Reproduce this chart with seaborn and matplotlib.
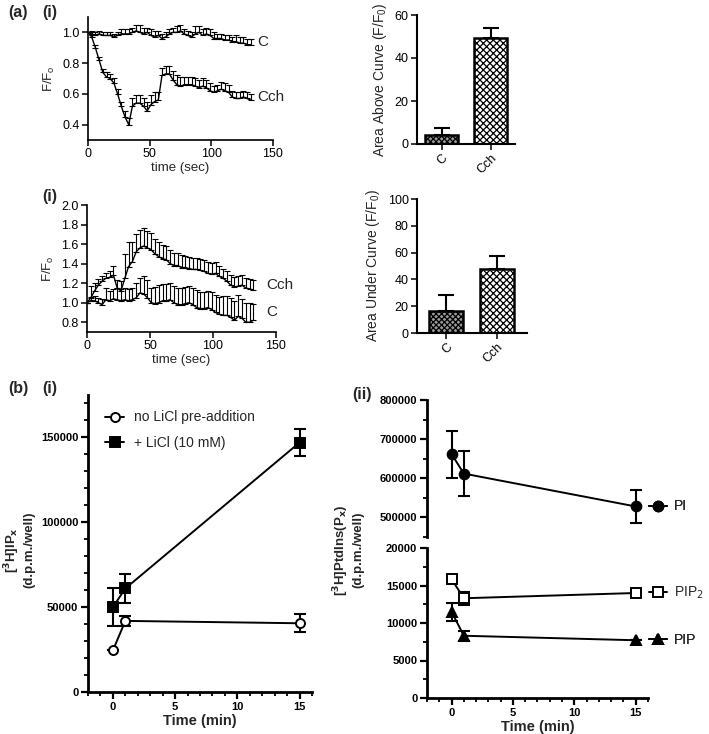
import matplotlib
matplotlib.use("Agg")
import matplotlib.pyplot as plt
from matplotlib.ticker import MultipleLocator, FormatStrFormatter
import numpy as np
import seaborn as sns

sns.set_style("ticks")
plt.rcParams['font.family'] = ['Liberation Sans', 'DejaVu Sans']
plt.rcParams['hatch.linewidth'] = 0.9

# ---- (a) calcium traces, one point every 3 s ----
t_sec = list(range(0, 133, 3))

top_c = [1.00, 0.99, 0.98, 0.99, 0.98, 0.98, 0.98, 0.97, 0.98, 0.99, 0.99, 0.99, 1.00, 1.01, 1.00,
         0.99, 1.00, 0.98, 0.97, 0.98, 0.96, 0.97, 0.99, 1.00, 1.00, 1.01, 0.99, 0.98, 0.97, 0.99,
         1.00, 0.98, 0.99, 0.98, 0.96, 0.96, 0.96, 0.95, 0.95, 0.94, 0.94, 0.93, 0.93, 0.92, 0.92]
top_c_err = [0.0, 0.02, 0.02, 0.02, 0.02, 0.02, 0.02, 0.02, 0.02, 0.03, 0.03, 0.03, 0.03, 0.04, 0.05,
             0.04, 0.03, 0.04, 0.04, 0.03, 0.03, 0.03, 0.03, 0.03, 0.04, 0.04, 0.03, 0.03, 0.03, 0.05,
             0.04, 0.04, 0.04, 0.04, 0.04, 0.03, 0.03, 0.03, 0.03, 0.03, 0.04, 0.04, 0.04, 0.04, 0.04]
top_cch = [1.00, 0.97, 0.90, 0.82, 0.74, 0.71, 0.70, 0.67, 0.60, 0.52, 0.45, 0.40, 0.52, 0.54, 0.54,
           0.52, 0.49, 0.53, 0.55, 0.56, 0.72, 0.73, 0.73, 0.69, 0.66, 0.65, 0.66, 0.66, 0.66, 0.65,
           0.64, 0.65, 0.64, 0.62, 0.61, 0.62, 0.63, 0.62, 0.61, 0.58, 0.57, 0.57, 0.58, 0.57, 0.56]
top_cch_err = [0.0, 0.01, 0.02, 0.02, 0.02, 0.03, 0.03, 0.03, 0.03, 0.03, 0.04, 0.04, 0.05, 0.05, 0.05,
               0.05, 0.06, 0.06, 0.06, 0.05, 0.05, 0.05, 0.05, 0.06, 0.06, 0.06, 0.05, 0.05, 0.05, 0.05,
               0.05, 0.05, 0.05, 0.05, 0.04, 0.04, 0.05, 0.05, 0.05, 0.04, 0.04, 0.04, 0.04, 0.04, 0.04]

mid_cch = [1.00, 1.05, 1.12, 1.18, 1.22, 1.25, 1.26, 1.28, 1.15, 1.12, 1.25, 1.37, 1.42, 1.52, 1.56,
           1.58, 1.56, 1.54, 1.50, 1.47, 1.45, 1.44, 1.40, 1.38, 1.38, 1.36, 1.36, 1.35, 1.34, 1.34,
           1.33, 1.32, 1.30, 1.29, 1.30, 1.27, 1.25, 1.22, 1.18, 1.16, 1.17, 1.18, 1.15, 1.14, 1.13]
mid_cch_err = [0.0, 0.12, 0.08, 0.06, 0.05, 0.05, 0.06, 0.10, 0.08, 0.10, 0.25, 0.25, 0.20, 0.18, 0.18,
               0.18, 0.17, 0.17, 0.15, 0.15, 0.14, 0.14, 0.14, 0.13, 0.13, 0.13, 0.12, 0.12, 0.12, 0.12,
               0.12, 0.12, 0.12, 0.12, 0.12, 0.11, 0.10, 0.10, 0.10, 0.10, 0.10, 0.10, 0.10, 0.10, 0.10]
mid_c = [1.00, 1.02, 1.02, 1.00, 0.98, 1.03, 1.02, 1.04, 1.03, 1.02, 1.03, 1.02, 1.03, 1.05, 1.10,
         1.09, 1.05, 1.00, 0.99, 1.00, 1.02, 1.02, 1.03, 1.00, 0.98, 0.98, 0.99, 1.00, 0.98, 0.95,
         0.94, 0.94, 0.95, 0.93, 0.90, 0.88, 0.87, 0.87, 0.85, 0.82, 0.86, 0.84, 0.80, 0.80, 0.82]
mid_c_err = [0.0, 0.04, 0.05, 0.05, 0.06, 0.12, 0.10, 0.10, 0.12, 0.12, 0.12, 0.12, 0.12, 0.15, 0.15,
             0.18, 0.18, 0.15, 0.17, 0.18, 0.17, 0.17, 0.17, 0.17, 0.17, 0.17, 0.17, 0.17, 0.17, 0.18,
             0.17, 0.17, 0.17, 0.18, 0.18, 0.18, 0.20, 0.20, 0.20, 0.20, 0.22, 0.20, 0.20, 0.20, 0.17]

bar_groups = ['C', 'Cch']
above_mean = [4.3, 49.5]
above_err = [3.1, 4.3]
under_mean = [16.4, 48.0]
under_err = [12.0, 9.7]

# ---- (b) inositol phosphates / phosphoinositides ----
t_min = [0, 1, 15]
ip_no_licl = [24500, 41900, 40500]
ip_no_licl_err = [0, 3000, 5300]
ip_licl = [50000, 61000, 147000]
ip_licl_err = [11000, 8500, 8000]
pi_vals = [662000, 612000, 528000]
pi_err = [60000, 57000, 41000]
pip2_vals = [15850, 13300, 14000]
pip2_err = [0, 900, 0]
pip_vals = [11500, 8300, 7700]
pip_err = [1200, 700, 0]

W, H = 709, 734
fig = plt.figure(figsize=(W / 100, H / 100), dpi=100)


def px_axes(l, t, r, b):
    return fig.add_axes([l / W, 1 - b / H, (r - l) / W, (b - t) / H])


def style_a(ax):
    sns.despine(ax=ax)
    for s in ['left', 'bottom']:
        ax.spines[s].set_linewidth(1.2)
        ax.spines[s].set_color('black')
    ax.tick_params(direction='out', length=4, width=1.1, labelsize=9, pad=2, colors='black')


def trace(ax, y, err, label, off):
    sns.lineplot(x=t_sec, y=y, color='black', lw=1.0, ax=ax)
    ax.errorbar(t_sec, y, yerr=[np.zeros(len(err)), err], fmt='none', ecolor='black',
                elinewidth=0.8, capsize=2.2, capthick=0.8)
    ax.annotate(label, xy=(t_sec[-1], y[-1] + err[-1] / 2), xytext=(off, 0),
                textcoords='offset points', va='center', fontsize=11)


# top trace
ax1 = px_axes(88, 17, 273, 140)
trace(ax1, top_c, top_c_err, 'C', 5)
trace(ax1, top_cch, top_cch_err, 'Cch', 5)
ax1.set_xlim(0, 150)
ax1.set_ylim(0.3, 1.1)
ax1.set_xticks([0, 50, 100, 150])
ax1.set_yticks([0.4, 0.6, 0.8, 1.0])
ax1.yaxis.set_major_formatter(FormatStrFormatter('%.1f'))
ax1.set_xlabel('time (sec)', fontsize=9.5, labelpad=1)
ax1.set_ylabel('F/F$_\\mathregular{o}$', fontsize=9.5, labelpad=4)
style_a(ax1)

# middle trace
ax3 = px_axes(87, 205, 276, 332)
trace(ax3, mid_cch, mid_cch_err, 'Cch', 9)
trace(ax3, mid_c, mid_c_err, 'C', 9)
ax3.set_xlim(0, 150)
ax3.set_ylim(0.7, 2.0)
ax3.set_xticks([0, 50, 100, 150])
ax3.set_yticks([0.8, 1.0, 1.2, 1.4, 1.6, 1.8, 2.0])
ax3.yaxis.set_major_formatter(FormatStrFormatter('%.1f'))
ax3.set_xlabel('time (sec)', fontsize=9.5, labelpad=1)
ax3.set_ylabel('F/F$_\\mathregular{o}$', fontsize=9.5, labelpad=4)
style_a(ax3)


def bars(ax, means, errs, ylabel):
    sns.barplot(x=bar_groups, y=means, ax=ax, color='white', edgecolor='black',
                linewidth=1.8, width=0.68, errorbar=None)
    for p, h, fc in zip(ax.patches, ['xxxxxx', 'xxxxx'], ['#9a9a9a', 'white']):
        p.set_hatch(h)
        p.set_facecolor(fc)
    ax.errorbar(range(len(means)), means, yerr=[np.zeros(len(errs)), errs], fmt='none',
                ecolor='black', elinewidth=1.5, capsize=6, capthick=1.5, zorder=0)
    ax.set_ylabel(ylabel, fontsize=10)
    for lab in ax.get_xticklabels():
        lab.set_rotation(45)
        lab.set_ha('right')
        lab.set_rotation_mode('anchor')
    style_a(ax)
    ax.spines['bottom'].set_linewidth(1.5)
    ax.spines['left'].set_linewidth(1.5)


ax2 = px_axes(417, 15, 515, 144)
bars(ax2, above_mean, above_err, 'Area Above Curve (F/F$_\\mathregular{0}$)')
ax2.set_xlim(-0.5, 1.5)
ax2.set_ylim(0, 60)
ax2.set_yticks([0, 20, 40, 60])

ax4 = px_axes(417, 199, 527, 333)
bars(ax4, under_mean, under_err, 'Area Under Curve (F/F$_\\mathregular{0}$)')
ax4.set_xlim(-0.58, 1.6)
ax4.set_ylim(0, 100)
ax4.set_yticks([0, 20, 40, 60, 80, 100])


def style_b(ax, bottom=True):
    sns.despine(ax=ax, bottom=not bottom)
    for s in ['left', 'bottom']:
        ax.spines[s].set_linewidth(2.0)
        ax.spines[s].set_color('black')
    ax.tick_params(which='major', direction='out', length=5, width=1.6, labelsize=8, pad=2,
                   colors='black')
    ax.tick_params(which='minor', direction='out', length=3, width=1.3, colors='black')
    for lab in ax.get_xticklabels() + ax.get_yticklabels():
        lab.set_fontweight('bold')


def series(ax, y, err, marker, mfc, label, ms=6.5):
    ax.errorbar(t_min, y, yerr=err, fmt='none', ecolor='black', elinewidth=1.5,
                capsize=4.5, capthick=1.5, zorder=2)
    sns.lineplot(x=t_min, y=y, ax=ax, color='black', lw=1.4, marker=marker, ms=ms,
                 markerfacecolor=mfc, markeredgecolor='black', markeredgewidth=1.4,
                 label=label, zorder=3)


# b(i)
ax5 = px_axes(88, 395, 312, 692)
series(ax5, ip_no_licl, ip_no_licl_err, 'o', 'white', 'no LiCl pre-addition')
series(ax5, ip_licl, ip_licl_err, 's', 'black', '+ LiCl (10 mM)')
ax5.set_xlim(-2, 16)
ax5.set_ylim(0, 175000)
ax5.set_xticks([0, 5, 10, 15])
ax5.set_yticks([0, 50000, 100000, 150000])
ax5.xaxis.set_minor_locator(MultipleLocator(1))
ax5.yaxis.set_minor_locator(MultipleLocator(10000))
ax5.yaxis.set_major_formatter(FormatStrFormatter('%d'))
ax5.set_xlabel('Time (min)', fontsize=10.5, fontweight='bold', labelpad=2)
ax5.set_ylabel('')
ax5.legend(loc='upper left', bbox_to_anchor=(0.02, 0.99), frameon=False, fontsize=10,
           handlelength=1.4, handletextpad=0.7, labelspacing=0.8)
style_b(ax5)
fig.text(19 / W, 1 - 550 / H, '[$^\\mathbf{3}$H]IP$_\\mathbf{x}$\n(d.p.m./well)', rotation=90,
         ha='center', va='center', fontsize=9.5, fontweight='bold', multialignment='center')

# b(ii) broken axis
ax6a = px_axes(427, 400, 648, 537)
ax6b = px_axes(427, 548, 648, 698)
series(ax6a, pi_vals, pi_err, 'o', 'black', 'PI', ms=7)
series(ax6b, pip2_vals, pip2_err, 's', 'white', 'PIP$_2$', ms=7)
series(ax6b, pip_vals, pip_err, '^', 'black', 'PIP', ms=7)
for ax in (ax6a, ax6b):
    ax.set_xlim(-2, 16)
    ax.set_xlabel('')
    ax.set_ylabel('')
    ax.yaxis.set_major_formatter(FormatStrFormatter('%d'))
ax6a.set_ylim(450000, 800000)
ax6a.set_yticks([500000, 600000, 700000, 800000])
ax6a.yaxis.set_minor_locator(MultipleLocator(50000))
ax6a.set_xticks([])
ax6b.set_ylim(0, 20000)
ax6b.set_yticks([0, 5000, 10000, 15000, 20000])
ax6b.yaxis.set_minor_locator(MultipleLocator(2500))
ax6b.set_xticks([0, 5, 10, 15])
ax6b.xaxis.set_minor_locator(MultipleLocator(1))
ax6b.set_xlabel('Time (min)', fontsize=10.5, fontweight='bold', labelpad=2)
style_b(ax6a, bottom=False)
style_b(ax6b)

# inline labels at the right of each series
for ax, vals in ((ax6a, [pi_vals]), (ax6b, [pip2_vals, pip_vals])):
    handles, labels = ax.get_legend_handles_labels()
    ax.get_legend().remove()
    for h, lab, v in zip(handles, labels, vals):
        leg = ax.legend([h], [lab], loc='center left', bbox_to_anchor=(16.1, v[-1]),
                        bbox_transform=ax.transData, frameon=False, fontsize=10,
                        handlelength=1.3, handletextpad=0.5, borderpad=0, borderaxespad=0)
        ax.add_artist(leg)

fig.text(348 / W, 1 - 550 / H, '[$^\\mathbf{3}$H]PtdIns(P$_\\mathbf{x}$)\n(d.p.m./well)', rotation=90,
         ha='center', va='center', fontsize=9.5, fontweight='bold', multialignment='center')

# panel labels
for x, y, s in [(8, 13, '(a)'), (42, 13, '(i)'), (42, 196, '(i)'),
                (8, 389, '(b)'), (42, 389, '(i)'), (352, 395, '(ii)')]:
    fig.text(x / W, 1 - y / H, s, fontsize=11.5, fontweight='bold', va='center', ha='left')

fig.savefig('out.png', dpi=100)
